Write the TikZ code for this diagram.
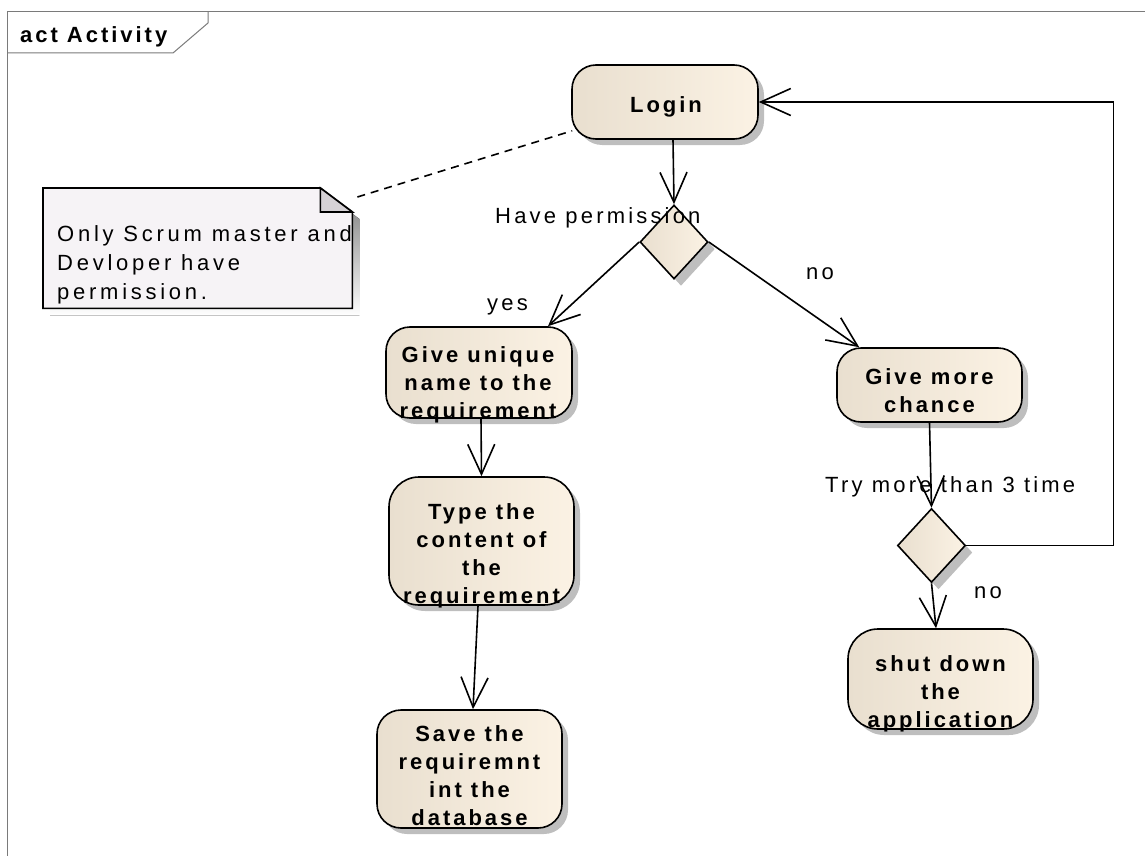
\documentclass[tikz,border=0pt]{standalone}
\usepackage{fontspec}
\setmainfont{Liberation Sans}[LetterSpace=14.5]
\newfontfamily\boldface{Liberation Sans Bold}[LetterSpace=13.5]
\usetikzlibrary{shapes.geometric,shadows,arrows.meta,calc}

\definecolor{actL}{HTML}{E9DFCF}
\definecolor{actR}{HTML}{FBF2E4}
\definecolor{shade}{HTML}{BEBEBE}
\definecolor{notefill}{HTML}{F6F3F6}
\definecolor{foldfill}{HTML}{D5D1D5}
\definecolor{framegrey}{HTML}{7A7A7A}

\begin{document}
\begin{tikzpicture}[x=1pt,y=-1pt,
  actbox/.style={rectangle, rounded corners=24pt, draw=black, line width=1.6pt,
    left color=actL, right color=actR,
    drop shadow={shadow xshift=6pt, shadow yshift=-6pt, fill=shade, opacity=1},
    inner sep=0pt},
  acttext/.style={inner sep=0pt, anchor=base, align=center,
    font=\fontsize{22}{28}\boldface},
  choice/.style={diamond, draw=black, line width=1.6pt,
    left color=actL, right color=actR,
    drop shadow={shadow xshift=7pt, shadow yshift=-7pt, fill=shade, opacity=1},
    inner sep=0pt, minimum width=68pt, minimum height=74pt},
  flow/.style={draw=black, line width=1.6pt,
    -{Straight Barb[length=30pt,width=27pt,line width=1.6pt]}},
  guard/.style={inner sep=0pt, anchor=base west,
    font=\fontsize{22}{28}\selectfont},
]
\useasboundingbox (0,0) rectangle (1145,856);

% diagram frame with its name tab
\draw[framegrey, line width=1pt] (7,857) -- (7,12) -- (1146,12);
\draw[framegrey, line width=1pt] (7,53) -- (173,53) -- (208,23) -- (208,12);
\node[inner sep=0pt, anchor=base west, font=\fontsize{22}{28}\boldface]
  (title) at (20,43) {act Activity};

% actions (box, then its text set on the baseline of the last line)
\node[actbox, minimum width=186pt, minimum height=74pt] (login) at (665,102) {};
\node[acttext] (loginText) at (666,112.5) {Login};

\node[actbox, minimum width=186pt, minimum height=91pt] (unique) at (479,372.5) {};
\node[acttext] (uniqueText) at (478,418) {Give unique\\name to the\\requirement};

\node[actbox, minimum width=185pt, minimum height=128pt, rounded corners=30pt] (content) at (481.5,541) {};
\node[acttext] (contentText) at (481.5,603) {Type the\\content of\\the\\requirement};

\node[actbox, minimum width=185pt, minimum height=118pt] (save) at (469.5,769) {};
\node[acttext] (saveText) at (469.5,825) {Save the\\requiremnt\\int the\\database};

\node[actbox, minimum width=185pt, minimum height=74pt] (chance) at (929.5,385) {};
\node[acttext] (chanceText) at (929.5,412.5) {Give more\\chance};

\node[actbox, minimum width=185pt, minimum height=100pt, rounded corners=30pt] (shutdown) at (940.5,679) {};
\node[acttext] (shutdownText) at (940.5,727) {shut down\\the\\application};

% decisions
\node[choice] (perm) at (674,242) {};
\node[choice] (tries) at (931.5,545.5) {};

% comment note: shadow, dog-eared sheet, folded corner
\node[inner sep=0pt, minimum width=309pt, minimum height=120pt, anchor=north west]
  (note) at (43,188) {};
\fill[shade]
  ($(note.north west)+(7,7)$) -- ($(note.north east)+(-25,7)$)
  -- ($(note.north east)+(7,31)$) -- ($(note.south east)+(7,7)$)
  -- ($(note.south west)+(7,7)$) -- cycle;
\draw[fill=notefill, line width=1.6pt, line join=miter]
  (note.north west) -- ($(note.north east)+(-32,0)$) -- ($(note.north east)+(0,24)$)
  -- (note.south east) -- (note.south west) -- cycle;
\draw[fill=foldfill, line width=1.6pt, line join=miter]
  ($(note.north east)+(-32,0)$) -- ($(note.north east)+(-32,24)$)
  -- ($(note.north east)+(0,24)$) -- cycle;
\node[inner sep=0pt, anchor=base west, align=left,
  font=\fontsize{22}{29}\selectfont\addfontfeature{LetterSpace=17}]
  (noteText) at (57,299) {Only Scrum master and\\Devloper have\\permission.};
\coordinate (noteLink) at ($(note.north east)+(5,9)$);
\draw[line width=1.6pt, dash pattern=on 8pt off 6pt]
  (noteLink) -- ($(login.south west)+(1,-9)$);

% control flow
\draw[flow] ($(login.south)+(8,0)$) -- (perm.north);
\draw[flow] (perm.west) -- ($(unique.north)+(69,0)$);
\draw[flow] (perm.east) -- ($(chance.north west)+(23,0)$);
\draw[flow] ($(unique.south)+(2,0)$) -- (content.north);
\draw[flow] ($(content.south)+(-3.5,0)$) -- ($(save.north)+(3.5,0)$);
\draw[flow] (chance.south) -- (tries.north);
\draw[flow] (tries.south) -- ($(shutdown.north)+(-4.5,0)$);
\draw[flow] (tries.east) -- ++(147,0) |- (login.east);

% guards
\node[guard] (permLabel) at (495,223.5) {Have permission};
\node[guard] (yesLabel) at (487,310) {yes};
\node[guard] (noLabel) at (806,279) {no};
\node[guard] (triesLabel) at (825,492) {Try more than 3 time};
\node[guard] (noLabelTwo) at (974,598) {no};
\end{tikzpicture}
\end{document}
